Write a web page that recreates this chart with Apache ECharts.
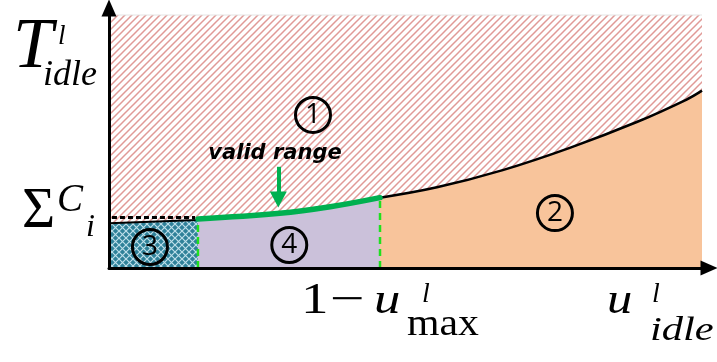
<!DOCTYPE html>
<html>
<head>
<meta charset="utf-8">
<script src="https://cdn.jsdelivr.net/npm/echarts@6/dist/echarts.min.js"></script>
<style>
  html, body { margin: 0; padding: 0; background: #ffffff; }
  #chart { width: 717px; height: 362px; }
</style>
</head>
<body>
<div id="chart"></div>
<script>
// Normalised coordinates: x runs 0..100 across the region, y 0..100 up to the top border.
const boundaryX = [15.0, 28.8, 37.3, 45.7, 55.3, 66.4, 77.7, 89.0, 97.4, 100];
const boundaryY = [19.4, 21.6, 24.2, 27.8, 31.9, 38.7, 47.5, 57.7, 66.6, 70.1];
const validEndX = 45.7;           // 1 - u_max
const busyEndX = 15.0;            // end of the ΣC_i block
const busyTopY = [17.7, 19.0];    // top edge of block ③
const sumCLevel = 20.0;           // dotted ΣC_i level
const regionNames = ['1', '2', '3', '4'];
const regionX = [34.4, 75.2, 6.9, 30.4];
const regionY = [60.5, 21.7, 8.3, 9.1];
const arrowX = 28.55;
const arrowFromY = 40.0;
const arrowToY = 27.1;

const XMAX = 101.18, YMAX = 102.77;

function pts(xs, ys) { return xs.map((x, i) => [x, ys[i]]); }
const curve = pts(boundaryX, boundaryY);
const greenPart = curve.filter(p => p[0] <= validEndX);
const blackPart = curve.filter(p => p[0] >= validEndX);
const greenAtStart = boundaryY[0];
const atValidEnd = boundaryY[boundaryX.indexOf(validEndX)];

// Diagonal hatch used above the boundary
function hatchTile() {
  const n = 7;
  const c = document.createElement('canvas');
  c.width = n; c.height = n;
  const g = c.getContext('2d');
  g.fillStyle = '#ffffff'; g.fillRect(0, 0, n, n);
  g.strokeStyle = '#e09a97'; g.lineWidth = 1.5;
  g.beginPath();
  for (const o of [-n, 0, n]) { g.moveTo(o - 1, n + 1); g.lineTo(o + n + 1, -1); }
  g.stroke();
  return c;
}
// Teal lattice for block ③
function latticeTile() {
  const n = 7;
  const c = document.createElement('canvas');
  c.width = n; c.height = n;
  const g = c.getContext('2d');
  g.fillStyle = '#2f8199'; g.fillRect(0, 0, n, n);
  g.strokeStyle = 'rgba(215,240,248,0.85)'; g.lineWidth = 1.2;
  g.beginPath();
  g.moveTo(0, 0); g.lineTo(n, n);
  g.moveTo(n, 0); g.lineTo(0, n);
  g.stroke();
  return c;
}

const serif = '"Liberation Serif", "Times New Roman", serif';
// text placed by its baseline, stretched horizontally from its left edge
function tex(text, x, base, size, italic, sx) {
  return {
    type: 'text', x: x, y: base - 0.31 * size, scaleX: sx || 1,
    originX: 0, originY: 0,
    style: { text: text, fontFamily: serif, fontSize: size,
             fontStyle: italic ? 'italic' : 'normal', fill: '#000',
             align: 'left', verticalAlign: 'middle' },
    z: 100
  };
}

const chart = echarts.init(document.getElementById('chart'), null, { renderer: 'canvas' });
const axisCommon = {
  type: 'value', min: 0,
  axisTick: { show: false }, axisLabel: { show: false }, splitLine: { show: false },
  axisLine: { show: true, symbol: ['none', 'triangle'], symbolSize: [15, 17],
              lineStyle: { color: '#000', width: 3 } },
  z: 50
};
chart.setOption({
  animation: false,
  backgroundColor: '#ffffff',
  grid: { left: 109, right: 8, top: 8, bottom: 94 },
  xAxis: Object.assign({}, axisCommon, { max: XMAX }),
  yAxis: Object.assign({}, axisCommon, { max: YMAX }),
  series: [
    { // region ① hatched
      type: 'line', data: [[0, 100], [100, 100]], symbol: 'none',
      lineStyle: { color: '#e4e4e4', width: 1 },
      areaStyle: { color: { image: hatchTile(), repeat: 'repeat' }, opacity: 1 }, z: 1
    },
    { // region ②
      type: 'line', data: blackPart, smooth: 0.4, symbol: 'none',
      lineStyle: { color: '#000', width: 2.5 },
      areaStyle: { color: '#f8c49b', opacity: 1 }, z: 2
    },
    { // region ④ and the valid range
      type: 'line', data: greenPart, smooth: 0.4, symbol: 'none',
      lineStyle: { color: '#00b050', width: 5.5, cap: 'round' },
      areaStyle: { color: '#cbc1da', opacity: 1 }, z: 4
    },
    { // region ③
      type: 'line', data: [[0, busyTopY[0]], [busyEndX, busyTopY[1]]], symbol: 'none',
      lineStyle: { color: '#000', width: 2 },
      areaStyle: { color: { image: latticeTile(), repeat: 'repeat' }, opacity: 1 }, z: 3
    },
    { // ΣC_i level
      type: 'line', data: [[0.5, sumCLevel], [busyEndX - 0.5, sumCLevel]], symbol: 'none',
      lineStyle: { color: '#000', width: 3, type: [5, 3] }, z: 5
    },
    {
      type: 'line', data: [[busyEndX, 0], [busyEndX, greenAtStart - 1]], symbol: 'none',
      lineStyle: { color: '#1fe01f', width: 2.5, type: [7, 5] }, z: 5
    },
    {
      type: 'line', data: [[validEndX, 0], [validEndX, atValidEnd - 1]], symbol: 'none',
      lineStyle: { color: '#1fe01f', width: 2.5, type: [7, 5] }, z: 5
    },
    { // arrow to the valid range
      type: 'line', data: [], z: 6,
      markLine: {
        silent: true, symbol: ['none', 'triangle'], symbolSize: [17, 16],
        label: { show: false },
        lineStyle: { color: '#00b050', width: 4, type: 'solid' },
        data: [[{ coord: [arrowX, arrowFromY] }, { coord: [arrowX, arrowToY] }]]
      }
    },
    { // region numbers
      type: 'scatter', z: 8,
      data: regionNames.map((n, i) => ({ name: n, value: [regionX[i], regionY[i]] })),
      symbol: 'circle', symbolSize: 35,
      itemStyle: { color: 'rgba(0,0,0,0)', borderColor: '#000', borderWidth: 3, opacity: 1 },
      label: { show: true, position: 'inside', formatter: p => p.name,
               fontFamily: '"Open Sans", "Noto Sans", sans-serif', fontSize: 28, color: '#000' }
    },
    { // caption of the arrow
      type: 'scatter', z: 8, symbolSize: 0,
      itemStyle: { opacity: 1 },
      data: [{ name: 'valid range', value: [28.0, 45.3] }],
      label: { show: true, position: 'inside', formatter: p => p.name,
               fontFamily: '"DejaVu Sans", sans-serif', fontWeight: 'bold', fontStyle: 'italic',
               fontSize: 21, color: '#000' }
    }
  ],
  graphic: [
    tex('T', 13, 70, 72, true),
    tex('l', 58, 45, 27, true),
    tex('idle', 43, 87, 36, true),
    tex('Σ', 22, 230, 57, false),
    tex('C', 57, 213, 39, true),
    tex('i', 86, 238, 32, true),
    tex('1', 301, 315, 44, false, 1.25),
    tex('−', 330, 315, 44, false, 1.4),
    tex('u', 374, 315, 44, true, 1.2),
    tex('l', 422, 303, 28, true),
    tex('max', 407, 337, 38, false, 1.1),
    tex('u', 607, 315, 44, true, 1.15),
    tex('l', 652, 303, 28, true),
    tex('idle', 650, 342, 34, true, 1.25)
  ]
});
</script>
</body>
</html>
